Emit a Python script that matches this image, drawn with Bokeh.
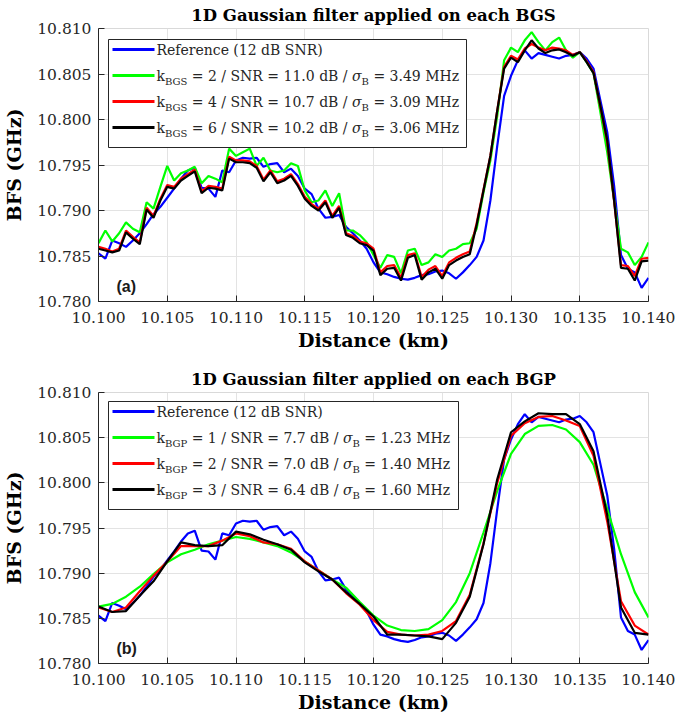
import glob
import numpy as np
from bokeh.plotting import figure
from bokeh.layouts import column
from bokeh.models import Range1d, FixedTicker, PrintfTickFormatter, BoxAnnotation, Label
from bokeh.embed import file_html
from bokeh.resources import INLINE

# ---------------- data ----------------
dist_fine = np.round(10.100 + 0.0005 * np.arange(81), 4)    # km, 0.5 m steps
dist_coarse = np.round(10.100 + 0.001 * np.arange(41), 4)   # km, 1 m steps

ref_bfs = [10.7853, 10.7847, 10.7867, 10.7864, 10.7860, 10.7867, 10.7875, 10.7885, 10.7896, 10.7904,
           10.7914, 10.7924, 10.7935, 10.7944, 10.7947, 10.7925, 10.7924, 10.7915, 10.7944, 10.7942,
           10.7955, 10.7958, 10.7957, 10.7958, 10.7948, 10.7951, 10.7952, 10.7942, 10.7946, 10.7938,
           10.7924, 10.7918, 10.7902, 10.7892, 10.7893, 10.7895, 10.7882, 10.7875, 10.7867, 10.7858,
           10.7843, 10.7832, 10.7830, 10.7827, 10.7825, 10.7824, 10.7826, 10.7829, 10.7830, 10.7833,
           10.7834, 10.7831, 10.7825, 10.7832, 10.7840, 10.7849, 10.7867, 10.7911, 10.7971, 10.8026,
           10.8048, 10.8065, 10.8076, 10.8067, 10.8073, 10.8071, 10.8069, 10.8067, 10.8070, 10.8071,
           10.8074, 10.8067, 10.8056, 10.8021, 10.7986, 10.7927, 10.7851, 10.7836, 10.7832, 10.7815,
           10.7826]

bgs_k2 = [10.7864, 10.7878, 10.7866, 10.7875, 10.7887, 10.7880, 10.7876, 10.7909, 10.7902, 10.7926,
          10.7949, 10.7933, 10.7941, 10.7944, 10.7948, 10.7930, 10.7938, 10.7935, 10.7931, 10.7968,
          10.7960, 10.7964, 10.7968, 10.7949, 10.7958, 10.7944, 10.7942, 10.7944, 10.7952, 10.7949,
          10.7922, 10.7909, 10.7911, 10.7922, 10.7905, 10.7919, 10.7878, 10.7878, 10.7873, 10.7865,
          10.7851, 10.7837, 10.7851, 10.7849, 10.7831, 10.7856, 10.7858, 10.7840, 10.7843, 10.7852,
          10.7849, 10.7856, 10.7858, 10.7863, 10.7864, 10.7880, 10.7920, 10.7955, 10.8004, 10.8065,
          10.8079, 10.8074, 10.8087, 10.8096, 10.8085, 10.8076, 10.8085, 10.8090, 10.8076, 10.8068,
          10.8074, 10.8063, 10.8051, 10.8008, 10.7964, 10.7911, 10.7858, 10.7854, 10.7840, 10.7849,
          10.7865]

bgs_k4 = [10.7860, 10.7858, 10.7855, 10.7858, 10.7878, 10.7871, 10.7865, 10.7903, 10.7894, 10.7913,
          10.7928, 10.7926, 10.7935, 10.7940, 10.7945, 10.7921, 10.7927, 10.7926, 10.7924, 10.7959,
          10.7955, 10.7955, 10.7954, 10.7949, 10.7934, 10.7944, 10.7932, 10.7935, 10.7940, 10.7929,
          10.7915, 10.7907, 10.7902, 10.7911, 10.7894, 10.7905, 10.7875, 10.7872, 10.7866, 10.7864,
          10.7858, 10.7832, 10.7839, 10.7840, 10.7826, 10.7851, 10.7853, 10.7827, 10.7835, 10.7839,
          10.7828, 10.7843, 10.7848, 10.7852, 10.7855, 10.7886, 10.7923, 10.7960, 10.8010, 10.8058,
          10.8070, 10.8066, 10.8078, 10.8083, 10.8079, 10.8076, 10.8079, 10.8078, 10.8076, 10.8071,
          10.8074, 10.8064, 10.8052, 10.8014, 10.7975, 10.7910, 10.7840, 10.7839, 10.7828, 10.7847,
          10.7848]

bgs_k6 = [10.7858, 10.7856, 10.7854, 10.7856, 10.7876, 10.7869, 10.7863, 10.7901, 10.7892, 10.7911,
          10.7926, 10.7924, 10.7933, 10.7938, 10.7943, 10.7919, 10.7925, 10.7924, 10.7922, 10.7957,
          10.7953, 10.7953, 10.7952, 10.7947, 10.7932, 10.7942, 10.7930, 10.7933, 10.7938, 10.7927,
          10.7913, 10.7905, 10.7900, 10.7909, 10.7892, 10.7903, 10.7873, 10.7870, 10.7864, 10.7862,
          10.7856, 10.7829, 10.7836, 10.7837, 10.7823, 10.7848, 10.7851, 10.7824, 10.7832, 10.7836,
          10.7825, 10.7840, 10.7845, 10.7849, 10.7852, 10.7884, 10.7922, 10.7960, 10.8010, 10.8056,
          10.8068, 10.8063, 10.8076, 10.8087, 10.8078, 10.8073, 10.8076, 10.8077, 10.8074, 10.8070,
          10.8074, 10.8063, 10.8051, 10.8015, 10.7977, 10.7911, 10.7837, 10.7836, 10.7823, 10.7844,
          10.7845]

bgp_k1 = [10.7863, 10.7866, 10.7874, 10.7885, 10.7899, 10.7912, 10.7921, 10.7926, 10.7932, 10.7936,
          10.7940, 10.7938, 10.7934, 10.7930, 10.7923, 10.7913, 10.7903, 10.7893, 10.7884, 10.7868,
          10.7853, 10.7842, 10.7837, 10.7836, 10.7838, 10.7848, 10.7868, 10.7900, 10.7945, 10.7991,
          10.8032, 10.8054, 10.8063, 10.8064, 10.8059, 10.8045, 10.8020, 10.7971, 10.7921, 10.7879,
          10.7851]

bgp_k2 = [10.7862, 10.7857, 10.7862, 10.7880, 10.7897, 10.7913, 10.7930, 10.7930, 10.7930, 10.7936,
          10.7944, 10.7941, 10.7934, 10.7932, 10.7927, 10.7913, 10.7903, 10.7893, 10.7878, 10.7865,
          10.7848, 10.7835, 10.7832, 10.7831, 10.7832, 10.7836, 10.7847, 10.7876, 10.7933, 10.8000,
          10.8052, 10.8066, 10.8073, 10.8074, 10.8069, 10.8063, 10.8030, 10.7957, 10.7869, 10.7842,
          10.7832]

bgp_k3 = [10.7863, 10.7857, 10.7858, 10.7875, 10.7891, 10.7913, 10.7934, 10.7931, 10.7930, 10.7931,
          10.7946, 10.7943, 10.7937, 10.7932, 10.7926, 10.7912, 10.7902, 10.7893, 10.7879, 10.7866,
          10.7852, 10.7832, 10.7832, 10.7831, 10.7830, 10.7827, 10.7845, 10.7874, 10.7932, 10.8004,
          10.8056, 10.8068, 10.8077, 10.8076, 10.8076, 10.8065, 10.8035, 10.7964, 10.7862, 10.7834,
          10.7832]

x_ticks = [10.100, 10.105, 10.110, 10.115, 10.120, 10.125, 10.130, 10.135, 10.140]
y_ticks = [10.780, 10.785, 10.790, 10.795, 10.800, 10.805, 10.810]

ref_label = "Reference (12 dB SNR)"
k_bgs = ["2", "4", "6"]
snr_bgs = ["11.0", "10.7", "10.2"]
sig_bgs = ["3.49", "3.09", "3.06"]
k_bgp = ["1", "2", "3"]
snr_bgp = ["7.7", "7.0", "6.4"]
sig_bgp = ["1.23", "1.40", "1.60"]

# ---------------- styling ----------------
SERIF = "DejaVu Serif"
SANS = "Liberation Sans"
DARK = "#262626"
COLORS = ["#0000ff", "#00ff00", "#ff0000", "#000000"]

# approximate DejaVu Serif advance widths (em), used only if no font file can be measured
TW = {' ': 0.318, '=': 0.838, '/': 0.337, '.': 0.318, 'k': 0.61, 'S': 0.69, 'N': 0.80,
      'R': 0.77, 'd': 0.648, 'B': 0.764, 'G': 0.78, 'P': 0.686, 'M': 0.954, 'H': 0.842,
      'z': 0.525, 'σ': 0.66}

_fonts = {}
try:
    from PIL import ImageFont
    for key, pat in (("normal", "DejaVuSerif.ttf"), ("italic", "DejaVuSerif-Italic.ttf")):
        hits = glob.glob("/usr/share/fonts/**/" + pat, recursive=True) + \
               glob.glob("/usr/local/share/fonts/**/" + pat, recursive=True)
        if hits:
            _fonts[key] = hits[0]
except Exception:
    ImageFont = None


def tw(s, size, style="normal"):
    path = _fonts.get(style)
    if path is not None:
        try:
            f = ImageFont.truetype(path, 200)
            return f.getlength(s) / 200.0 * size
        except Exception:
            pass
    return sum(TW.get(c, 0.636) for c in s) * size


def make_fig(title, letter, xs_list, ys_list, sub, ks, snrs, sigs, top_b, bot_b, box_right):
    p = figure(width=675, height=360, output_backend="svg", toolbar_location=None,
               x_range=Range1d(10.100, 10.140), y_range=Range1d(10.780, 10.810),
               min_border_left=93, min_border_right=27, min_border_top=top_b, min_border_bottom=bot_b)
    p.title.text = title
    p.title.text_font = SERIF
    p.title.text_font_size = "16.5px"
    p.title.text_font_style = "bold"
    p.title.align = "center"
    p.title.text_color = "#000000"
    p.title.standoff = 7
    p.title.offset = 0

    for xs, ys, c in zip(xs_list, ys_list, COLORS):
        p.line(xs, ys, line_color=c, line_width=2.2)

    for ax in (p.xaxis[0], p.yaxis[0]):
        ax.major_label_text_font = SERIF
        ax.major_label_text_font_size = "15.5px"
        ax.major_label_text_color = DARK
        ax.axis_label_text_font = SERIF
        ax.axis_label_text_font_size = "19px"
        ax.axis_label_text_font_style = "bold"
        ax.axis_label_text_color = "#000000"
        ax.axis_line_color = DARK
        ax.major_tick_line_color = DARK
        ax.major_tick_in = 6
        ax.major_tick_out = 0
        ax.minor_tick_line_color = None
        ax.formatter = PrintfTickFormatter(format="%.3f")
    p.xaxis.ticker = FixedTicker(ticks=x_ticks)
    p.yaxis.ticker = FixedTicker(ticks=y_ticks)
    p.xaxis.axis_label = "Distance (km)"
    p.yaxis.axis_label = "BFS (GHz)"
    p.xaxis.major_label_standoff = 10
    p.xaxis.axis_label_standoff = 3
    p.yaxis.major_label_standoff = 7
    p.yaxis.axis_label_standoff = 9
    p.xgrid.ticker = FixedTicker(ticks=x_ticks)
    p.ygrid.ticker = FixedTicker(ticks=y_ticks)
    p.xgrid.grid_line_color = "#e3e3e3"
    p.ygrid.grid_line_color = "#e3e3e3"
    p.outline_line_color = "#d9d9d9"
    p.background_fill_color = "white"
    p.border_fill_color = "white"

    # custom legend (screen units, relative to the frame)
    p.add_layout(BoxAnnotation(left=10, right=box_right, bottom=154, top=262,
                               left_units="screen", right_units="screen",
                               bottom_units="screen", top_units="screen",
                               fill_color="white", fill_alpha=1.0,
                               line_color=DARK, line_width=1, line_alpha=1.0))
    rows_y = [252, 226, 200, 174]
    main_sz, sub_sz = 14, 10
    for r, (yrow, c) in enumerate(zip(rows_y, COLORS)):
        p.add_layout(BoxAnnotation(left=14, right=56, bottom=yrow - 1.4, top=yrow + 1.4,
                                   left_units="screen", right_units="screen",
                                   bottom_units="screen", top_units="screen",
                                   fill_color=c, fill_alpha=1.0, line_alpha=0))
        if r == 0:
            pieces = [(ref_label, "main")]
        else:
            i = r - 1
            pieces = [("k", "main"), (sub, "sub"),
                      (f" = {ks[i]} / SNR = {snrs[i]} dB / ", "main"),
                      ("σ", "ital"), ("B", "sub"), (f" = {sigs[i]} MHz", "main")]
        cur = 58.0
        for txt, st in pieces:
            size = sub_sz if st == "sub" else main_sz
            fstyle = "italic" if st == "ital" else "normal"
            lead = txt[:len(txt) - len(txt.lstrip(" "))]
            xdraw = cur + tw(lead, size)
            p.add_layout(Label(x=xdraw, y=(yrow - 6.3) if st == "sub" else yrow,
                               x_units="screen", y_units="screen", text=txt.strip(" "),
                               text_font=SERIF, text_font_size=f"{size}px",
                               text_font_style=fstyle,
                               text_color=DARK, text_baseline="middle", text_align="left"))
            cur += tw(txt, size, fstyle)

    p.add_layout(Label(x=18, y=15, x_units="screen", y_units="screen", text=letter,
                       text_font=SANS, text_font_size="16px",
                       text_font_style="bold", text_color="#1a1a1a",
                       text_baseline="middle", text_align="left"))
    return p


p1 = make_fig("1D Gaussian filter applied on each BGS", "(a)",
              [dist_fine] * 4, [ref_bfs, bgs_k2, bgs_k4, bgs_k6], "BGS",
              k_bgs, snr_bgs, sig_bgs, 28, 59, 368)
p2 = make_fig("1D Gaussian filter applied on each BGP", "(b)",
              [dist_fine, dist_coarse, dist_coarse, dist_coarse], [ref_bfs, bgp_k1, bgp_k2, bgp_k3], "BGP",
              k_bgp, snr_bgp, sig_bgp, 32, 57, 360)

layout = column(p1, p2, spacing=0)
open("out.html", "w").write(file_html(layout, INLINE))
